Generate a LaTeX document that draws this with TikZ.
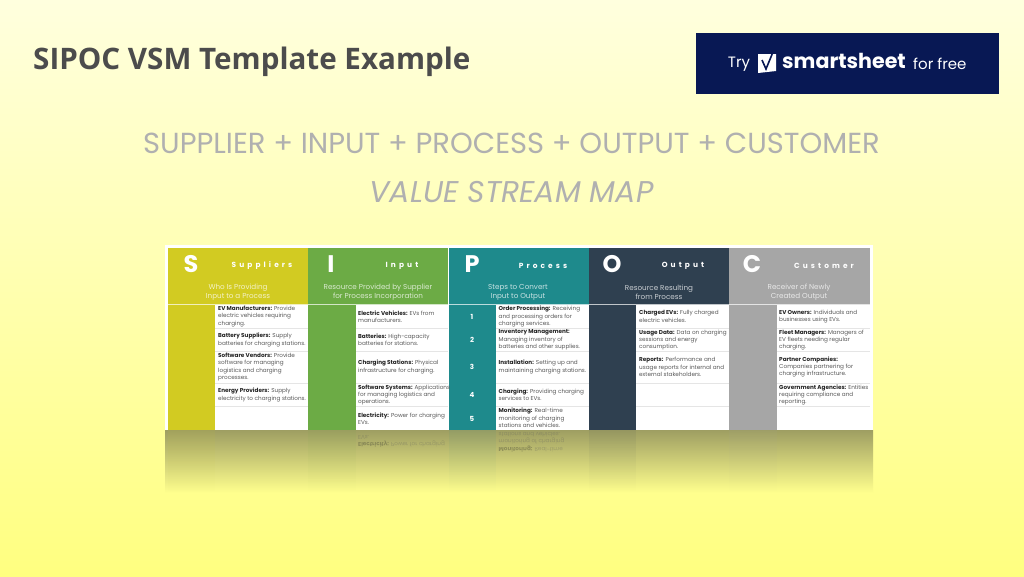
\documentclass[tikz,border=0pt]{standalone}
\usepackage{fontspec}
\setmainfont{Poppins}
\newfontfamily\wide[LetterSpace=42]{Poppins}
\newfontfamily\titlefont{Open Sans}
\usetikzlibrary{fadings}

\definecolor{bgtop}{RGB}{255,255,222}
\definecolor{bgbot}{RGB}{255,255,128}
\definecolor{sipocS}{RGB}{210,203,34}
\definecolor{sipocI}{RGB}{108,171,69}
\definecolor{sipocP}{RGB}{30,138,140}
\definecolor{sipocO}{RGB}{47,64,80}
\definecolor{sipocC}{RGB}{166,166,166}
\definecolor{navy}{RGB}{8,24,84}
\definecolor{greytext}{RGB}{176,176,176}
\definecolor{mirrortop}{RGB}{158,158,98}
\definecolor{mirrorbot}{RGB}{254,254,141}

\tikzfading[name=mirrorfade, top color=transparent!0, bottom color=transparent!100]

\tikzset{
  band/.style={fill=#1, draw=none},
  letter/.style={text=white, font=\fontsize{24}{24}\selectfont\bfseries, inner sep=0pt},
  headname/.style={text=white, font=\fontsize{7.4}{7.4}\selectfont\wide\bfseries, inner sep=0pt},
  headsub/.style={text=white, text opacity=.75, align=center, inner sep=0pt, font=\fontsize{7.2}{9}\selectfont},
  celltext/.style={anchor=west, align=left, inner sep=0pt, text=black!65, font=\fontsize{5.7}{7.4}\selectfont},
  rownum/.style={text=white, inner sep=0pt, font=\fontsize{7}{7}\selectfont\bfseries},
  rowline/.style={draw=black!10, line width=.5pt},
  mirrored/.style={celltext, yscale=-1, transform shape, opacity=.3}
}
\newcommand{\hd}[1]{\textbf{\textcolor{black!85}{#1}}}

\begin{document}
\begin{tikzpicture}[x=1pt,y=-1pt]

  % Slide background
  \shade[top color=bgtop, bottom color=bgbot, draw=none] (0,0) rectangle (1024,576);
  \useasboundingbox (0,0) rectangle (1024,576);

  % Titles
  \node[anchor=west, inner sep=0pt, text=black!70, font=\fontsize{29.6}{29.6}\selectfont\titlefont\bfseries] (title) at (33,62) {SIPOC VSM Template Example};
  \node[text=greytext, inner sep=0pt, font=\fontsize{29}{29}\selectfont] (subtitle) at (511.5,143) {SUPPLIER + INPUT + PROCESS + OUTPUT + CUSTOMER};
  \node[text=greytext, inner sep=0pt, font=\fontsize{30}{30}\selectfont\itshape] (vsm) at (511.5,192) {VALUE STREAM MAP};

  % Try smartsheet button
  \fill[navy] (696,33) rectangle (999,94);
  \node[text=white, inner sep=0pt, font=\fontsize{15}{15}\selectfont] (try) at (739,64) {Try};
  \fill[white] (758,54) -- (776,54) -- (776,71) -- (758,73) -- cycle;
  \draw[navy, line width=1.6pt] (762,60) -- (766,69) -- (773,52);
  \node[anchor=west, text=white, inner sep=0pt, font=\fontsize{20.6}{20.6}\selectfont\bfseries] (brand) at (782,61) {smartsheet};
  \node[anchor=west, text=white, inner sep=0pt, font=\fontsize{15}{15}\selectfont] (free) at (913,64) {for free};

  % Table panel
  \fill[white] (165,245) rectangle (873,430);

  % Reflection under the table
  \shade[top color=mirrortop, bottom color=mirrorbot, draw=none] (165,430) rectangle (873,492);
  \foreach \xa/\xb/\col in {168/215/sipocS, 308/356/sipocI, 449/496/sipocP, 589/636/sipocO, 729/777/sipocC}
    \fill[\col, opacity=.08, path fading=mirrorfade] (\xa,430) rectangle (\xb,492);

  % Columns: left edge, band edge, right edge, colour
  \foreach \xa/\xb/\xc/\col in {168/215/308/sipocS, 308/356/448/sipocI, 449/496/589/sipocP, 589/636/729/sipocO, 729/777/870/sipocC} {
    \fill[band=\col] (\xa,248) rectangle (\xc,304);
    \fill[band=\col] (\xa,304) rectangle (\xb,430);
    \foreach \y in {328,351,383,406}
      \draw[rowline] (\xb,\y) -- (\xc,\y);
    \draw[white!70!\col, line width=.5pt] (\xa,304) -- (\xc,304);
  }

  % Column heads
  \node[letter] (letS) at (191,264) {S};
  \node[letter] (letI) at (331,264) {I};
  \node[letter] (letP) at (472,264) {P};
  \node[letter] (letO) at (612,264) {O};
  \node[letter] (letC) at (752,264) {C};

  \node[headname] (nameS) at (262,265.5) {Suppliers};
  \node[headname] (nameI) at (402,265.5) {Input};
  \node[headname] (nameP) at (543,265.5) {Process};
  \node[headname] (nameO) at (683,265.5) {Output};
  \node[headname] (nameC) at (824,265.5) {Customer};

  \node[headsub] (subS) at (238,292) {Who Is Providing\\Input to a Process};
  \node[headsub] (subI) at (378,292) {Resource Provided by Supplier\\for Process Incorporation};
  \node[headsub] (subP) at (518,292) {Steps to Convert\\Input to Output};
  \node[headsub] (subO) at (659,292) {Resource Resulting\\from Process};
  \node[headsub] (subC) at (799,292) {Receiver of Newly\\Created Output};

  % Suppliers
  \node[celltext] (s1) at (218,316.5) {\hd{EV Manufacturers:} Provide\\electric vehicles requiring\\charging.};
  \node[celltext] (s2) at (218,340) {\hd{Battery Suppliers:} Supply\\batteries for charging stations.};
  \node[celltext] (s3) at (218,367) {\hd{Software Vendors:} Provide\\software for managing\\logistics and charging\\processes.};
  \node[celltext] (s4) at (218,395) {\hd{Energy Providers:} Supply\\electricity to charging stations.};

  % Input
  \node[celltext] (i1) at (358,316.5) {\hd{Electric Vehicles:} EVs from\\manufacturers.};
  \node[celltext] (i2) at (358,340) {\hd{Batteries:} High-capacity\\batteries for stations.};
  \node[celltext] (i3) at (358,367) {\hd{Charging Stations:} Physical\\infrastructure for charging.};
  \node[celltext] (i4) at (358,395) {\hd{Software Systems:} Applications\\for managing logistics and\\operations.};
  \node[celltext] (i5) at (358,418.5) {\hd{Electricity:} Power for charging\\EVs.};

  % Process
  \foreach \n/\y in {1/316.5,2/340,3/367,4/395,5/418.5}
    \node[rownum] (num\n) at (472,\y) {\n};
  \node[celltext] (p1) at (498.5,316.5) {\hd{Order Processing:} Receiving\\and processing orders for\\charging services.};
  \node[celltext] (p2) at (498.5,340) {\hd{Inventory Management:}\\Managing inventory of\\batteries and other supplies.};
  \node[celltext] (p3) at (498.5,367) {\hd{Installation:} Setting up and\\maintaining charging stations.};
  \node[celltext] (p4) at (498.5,395) {\hd{Charging:} Providing charging\\services to EVs.};
  \node[celltext] (p5) at (498.5,418) {\hd{Monitoring:} Real-time\\monitoring of charging\\stations and vehicles.};

  % Output
  \node[celltext] (o1) at (639,316.5) {\hd{Charged EVs:} Fully charged\\electric vehicles.};
  \node[celltext] (o2) at (639,340) {\hd{Usage Data:} Data on charging\\sessions and energy\\consumption.};
  \node[celltext] (o3) at (639,367) {\hd{Reports:} Performance and\\usage reports for internal and\\external stakeholders.};

  % Customer
  \node[celltext] (c1) at (779,316.5) {\hd{EV Owners:} Individuals and\\businesses using EVs.};
  \node[celltext] (c2) at (779,340) {\hd{Fleet Managers:} Managers of\\EV fleets needing regular\\charging.};
  \node[celltext] (c3) at (779,367) {\hd{Partner Companies:}\\Companies partnering for\\charging infrastructure.};
  \node[celltext] (c4) at (779,395) {\hd{Government Agencies:} Entities\\requiring compliance and\\reporting.};

  % Mirrored rows in the reflection
  \node[mirrored] (mi5) at (358,441.5) {\hd{Electricity:} Power for charging\\EVs.};
  \node[mirrored] (mp5) at (498.5,442) {\hd{Monitoring:} Real-time\\monitoring of charging\\stations and vehicles.};

\end{tikzpicture}
\end{document}
